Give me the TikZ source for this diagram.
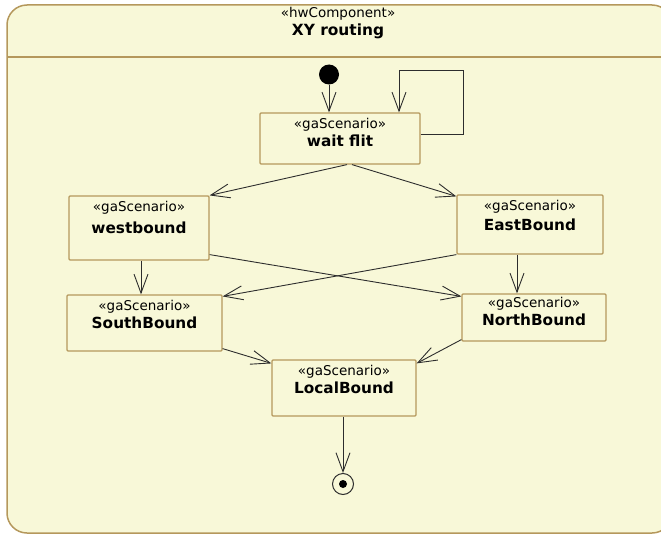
\documentclass[tikz,border=0pt]{standalone}
\usepackage{fontspec}
\setmainfont{DejaVu Sans}
\usetikzlibrary{arrows.meta}
\definecolor{fondo}{RGB}{248,248,216}
\definecolor{borde}{RGB}{181,152,92}
\definecolor{linea}{RGB}{45,45,45}
\tikzset{
  escenario/.style={draw=borde, fill=fondo, line width=1.2pt, rounded corners=1pt,
    label={[font=\fontsize{13.5pt}{15pt}\selectfont, anchor=center, yshift=-#1]north:«gaScenario»}},
  escenario/.default=12pt,
  nombre/.style 2 args={label={[font=\fontsize{15.3pt}{17pt}\selectfont\bfseries, anchor=center, yshift=-#1]north:#2}},
  flujo/.style={draw=linea, line width=0.9pt, -{Straight Barb[length=19pt, width=14pt, line width=0.9pt]}},
}
\begin{document}
\begin{tikzpicture}[x=1pt, y=-1pt]
    \useasboundingbox (0,0) rectangle (661,535);

    % Marco del componente
    \draw[borde, fill=fondo, line width=1.5pt, rounded corners=20pt] (7,5) rectangle (672,533);
    \draw[borde, line width=1.2pt] (7,57) -- (672,57);
    \node[font=\fontsize{13.5pt}{15pt}\selectfont] (estereo) at (338,14) {«hwComponent»};
    \node[font=\fontsize{15.4pt}{17pt}\selectfont\bfseries] (titulo) at (338,31) {XY routing};

    % Escenarios
    \node[escenario, minimum width=160pt, minimum height=51pt, nombre={28pt}{wait flit}] (espera) at (340,138.5) {};
    \node[escenario, minimum width=140pt, minimum height=64pt, nombre={32pt}{westbound}] (oeste) at (139,228) {};
    \node[escenario, minimum width=146pt, minimum height=59pt, nombre={30pt}{EastBound}] (este) at (530,224.5) {};
    \node[escenario, minimum width=155pt, minimum height=56pt, nombre={28pt}{SouthBound}] (sur) at (144.5,323) {};
    \node[escenario=10pt, minimum width=144pt, minimum height=47pt, nombre={26pt}{NorthBound}] (norte) at (534,317.5) {};
    \node[escenario, minimum width=144pt, minimum height=56pt, nombre={28pt}{LocalBound}] (local) at (344,388) {};

    % Nodos inicial y final
    \node[circle, fill=black, minimum size=20pt, inner sep=0pt] (inicio) at (329,74.5) {};
    \node[circle, draw=linea, line width=1pt, minimum size=21pt, inner sep=0pt,
      path picture={\fill[black] (path picture bounding box.center) circle (4pt);}] (fin) at (343,484) {};
    \coordinate (bucle) at (399,70);

    % Transiciones
    \draw[flujo] (inicio) -- (inicio |- espera.north);
    \draw[flujo] ([yshift=4.5pt]espera.east) -- ++(43,0) |- (bucle) -- (bucle |- espera.north);
    \draw[flujo] ([xshift=7pt]espera.south) -- (oeste.north east);
    \draw[flujo] ([xshift=12pt]espera.south) -- ([yshift=-2pt]este.north west);
    \draw[flujo] ([xshift=2pt]oeste.south) -- ([xshift=2pt]oeste.south |- sur.north);
    \draw[flujo] ([xshift=-13pt]este.south) -- ([xshift=-13pt]este.south |- norte.north);
    \draw[flujo] ([yshift=6pt]oeste.south east) -- ([yshift=-3pt]norte.north west);
    \draw[flujo] (este.south west) -- ([yshift=-2pt]sur.north east);
    \draw[flujo] ([yshift=3pt]sur.south east) -- ([yshift=-4pt]local.north west);
    \draw[flujo] ([yshift=2pt]norte.south west) -- ([yshift=-4pt]local.north east);
    \draw[flujo] (local.south -| fin) -- (fin);
\end{tikzpicture}
\end{document}
